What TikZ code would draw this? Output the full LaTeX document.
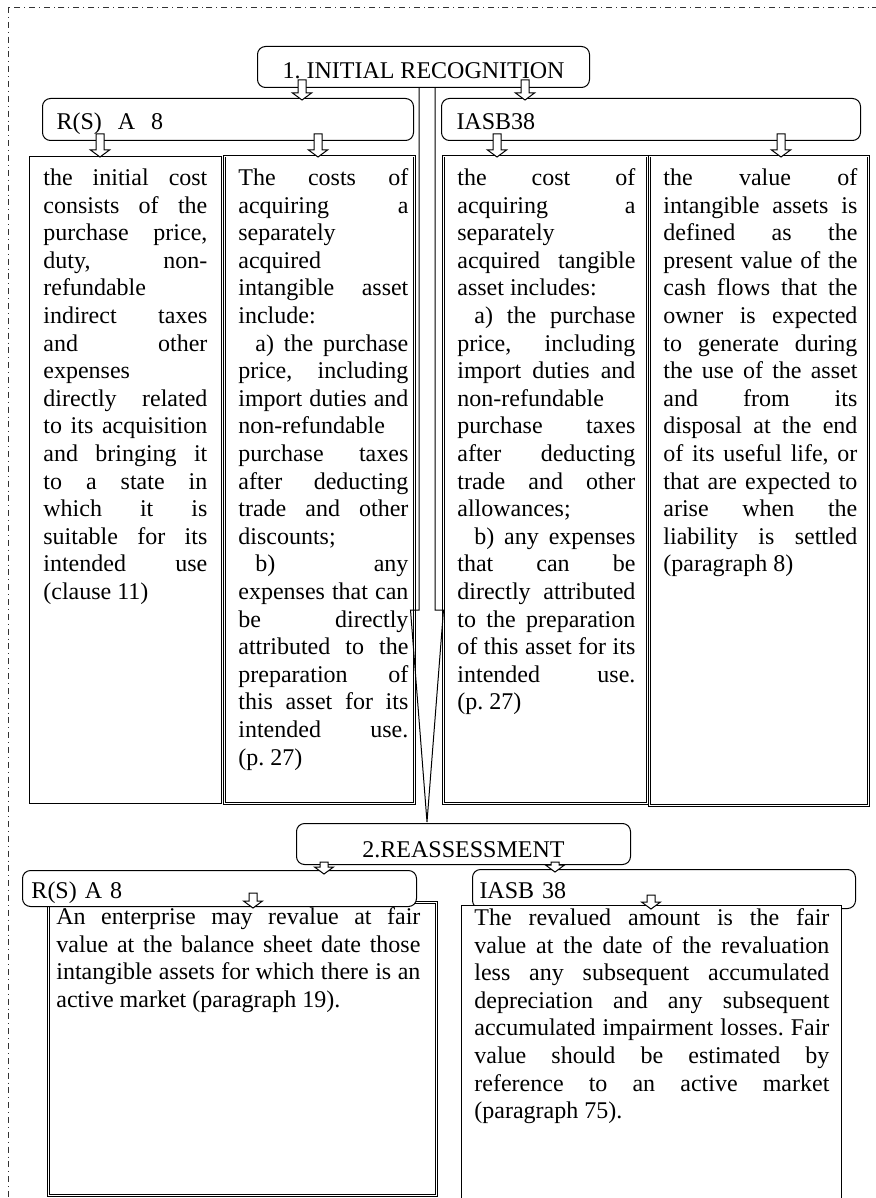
\documentclass[tikz,border=0pt]{standalone}
\usepackage{fontspec}
\setmainfont{Liberation Serif}
\usetikzlibrary{calc}
\tikzset{frame/.style = {dash dot, line width=0.4pt, black!80}}
\tikzset{rbox/.style = {draw, fill=white, rounded corners=4pt, anchor=north west,
                        inner ysep=0pt, text depth=0pt, line width=0.5pt}}
\tikzset{colbox/.style = {draw, fill=white, anchor=north west, inner sep=0pt, line width=0.6pt}}
\tikzset{dblbox/.style = {colbox, double, double distance=0.45pt, line width=0.35pt}}
\tikzset{coltext/.style = {anchor=north west, inner sep=0pt, align=justify}}
\tikzset{hollow/.style = {draw, fill=white, line width=0.5pt, line join=miter}}
\newcommand{\boxfont}{\fontsize{12}{13.8}\selectfont
  \pretolerance=10000 \tolerance=10000 \hbadness=10000 \frenchspacing}
\newcommand{\subpar}{\par\hspace*{8.5pt}}
\newcommand{\downblock}[2]{%
  \draw[hollow] let \p1 = #1, \p2 = #2 in
    (\x1-2pt,\y1) -- (\x1+2pt,\y1) -- (\x1+2pt,\y2+3.5pt) -- (\x1+4.75pt,\y2+3.5pt)
    -- (\x1,\y2) -- (\x1-4.75pt,\y2+3.5pt) -- (\x1-2pt,\y2+3.5pt) -- cycle;}

\begin{document}
\begin{tikzpicture}[x=0.5pt, y=-0.5pt, font=\boxfont]
          \useasboundingbox (0,0) rectangle (875,1198);
          \draw [frame] (8,7) rectangle (900,1230);

          \node [colbox, minimum width=96pt, minimum height=323.5pt] (rsone) at (29,156) {};
          \node [dblbox, minimum width=95pt, minimum height=323.5pt] (rstwo) at (224,156) {};
          \node [dblbox, minimum width=102pt, minimum height=323.5pt] (iaone) at (443,156) {};
          \node [dblbox, minimum width=109.5pt, minimum height=324.5pt] (iatwo) at (649,156) {};

          \node [coltext, text width=82pt] (rsonetxt) at (43,165.7) {\strut the initial cost\linebreak
            consists of the\linebreak purchase price,\linebreak duty, non-\linebreak refundable\linebreak
            indirect taxes\linebreak and other\linebreak expenses\linebreak directly related\linebreak
            to its acquisition\linebreak and bringing it\linebreak to a state in\linebreak
            which it is\linebreak suitable for its\linebreak intended use\linebreak (clause 11)};
          \node [coltext, text width=85pt] (rstwotxt) at (238,165.7) {\strut The costs of\linebreak
            acquiring a\linebreak separately\linebreak acquired\linebreak intangible asset\linebreak
            include:\subpar a) the purchase\linebreak price, including\linebreak import duties and\linebreak
            non-refundable\linebreak purchase taxes\linebreak after deducting\linebreak
            trade and other\linebreak discounts;\subpar b) any\linebreak expenses that can\linebreak
            be directly\linebreak attributed to the\linebreak preparation of\linebreak
            this asset for its\linebreak intended use.\linebreak (p. 27)};
          \node [coltext, text width=89pt] (iaonetxt) at (457,165.7) {\strut the cost of\linebreak
            acquiring a\linebreak separately\linebreak acquired tangible\linebreak asset includes:\subpar
            a) the purchase\linebreak price, including\linebreak import duties and\linebreak
            non-refundable\linebreak purchase taxes\linebreak after deducting\linebreak
            trade and other\linebreak allowances;\subpar b) any expenses\linebreak that can be\linebreak
            directly attributed\linebreak to the preparation\linebreak of this asset for its\linebreak
            intended use.\linebreak (p. 27)};
          \node [coltext, text width=97pt] (iatwotxt) at (663,165.7) {\strut the value of\linebreak
            intangible assets is\linebreak defined as the\linebreak present value of the\linebreak
            cash flows that the\linebreak owner is expected\linebreak to generate during\linebreak
            the use of the asset\linebreak and from its\linebreak disposal at the end\linebreak
            of its useful life, or\linebreak that are expected to\linebreak arise when the\linebreak
            liability is settled\linebreak (paragraph 8)};

          \node [rbox, minimum width=166pt, minimum height=20.5pt, text height=11.5pt] (init) at (257,46) {1. INITIAL RECOGNITION};
          \node [rbox, minimum height=21pt, text width=171.5pt, inner xsep=7pt, text height=10pt] (rsa) at (42,98) {R(S)~~A~~8};
          \node [rbox, minimum height=21pt, text width=194.5pt, inner xsep=7.5pt, text height=10pt] (iasb) at (441,98) {IASB38};

          \coordinate (neck) at (427,610);
          \draw [line width=0.5pt, line join=miter] let \p1 = (init.south -| neck), \p2 = (neck), \p3 = (0,822) in
            (\x1-4pt,\y1) -- (\x1-4pt,\y2) -- (\x1-8.25pt,\y2) -- (\x1,\y3)
            -- (\x1+8.25pt,\y2) -- (\x1+4pt,\y2) -- (\x1+4pt,\y1);

          \downblock{($(302,0 |- init.south)+(0,-8)$)}{($(302,0 |- rsa.north)+(0,2)$)}
          \downblock{($(525,0 |- init.south)+(0,-8)$)}{($(525,0 |- iasb.north)+(0,2)$)}
          \downblock{($(100,0 |- rsa.south)+(0,-7)$)}{($(100,0 |- rsone.north)+(0,1)$)}
          \downblock{($(318,0 |- rsa.south)+(0,-7)$)}{($(318,0 |- rstwo.north)+(0,1)$)}
          \downblock{($(497,0 |- iasb.south)+(0,-7)$)}{($(497,0 |- iaone.north)+(0,1)$)}
          \downblock{($(781,0 |- iasb.south)+(0,-7)$)}{($(781,0 |- iatwo.north)+(0,1)$)}

          \node [rbox, minimum width=167pt, minimum height=20.5pt, text height=13.5pt] (reass) at (296,823) {2.REASSESSMENT};

          \node [dblbox, minimum width=194pt, minimum height=146.5pt] (enbox) at (48,902) {};
          \node [coltext, text width=182pt] (entxt) at (56,904.7) {\strut An enterprise may revalue at fair\linebreak
            value at the balance sheet date those\linebreak intangible assets for which there is an\linebreak
            active market (paragraph 19).};
          \node [rbox, minimum height=18pt, text width=188pt, inner xsep=4.5pt, text height=10pt] (rsb) at (22,870) {R(S) A 8};

          \node [rbox, minimum height=19.5pt, text width=184.5pt, inner xsep=3.5pt, text height=9.5pt] (iasbb) at (472,869) {IASB 38};
          \node [colbox, minimum width=190pt, minimum height=154pt] (rvbox) at (461,905) {};
          \node [coltext, text width=177.5pt] (rvtxt) at (474,905.7) {\strut The revalued amount is the fair\linebreak
            value at the date of the revaluation\linebreak less any subsequent accumulated\linebreak
            depreciation and any subsequent\linebreak accumulated impairment losses. Fair\linebreak
            value should be estimated by\linebreak reference to an active market\linebreak
            (paragraph 75).};

          \downblock{($(324,0 |- reass.south)+(0,-3)$)}{($(324,0 |- rsb.north)+(0,4)$)}
          \downblock{($(555,0 |- reass.south)+(0,-3)$)}{($(555,0 |- iasbb.north)+(0,3)$)}
          \downblock{($(253,0 |- rsb.south)+(0,-14)$)}{($(253,0 |- enbox.north)+(0,6)$)}
          \downblock{($(651,0 |- iasbb.south)+(0,-14)$)}{($(651,0 |- rvbox.north)+(0,4)$)}
        \end{tikzpicture}
\end{document}
